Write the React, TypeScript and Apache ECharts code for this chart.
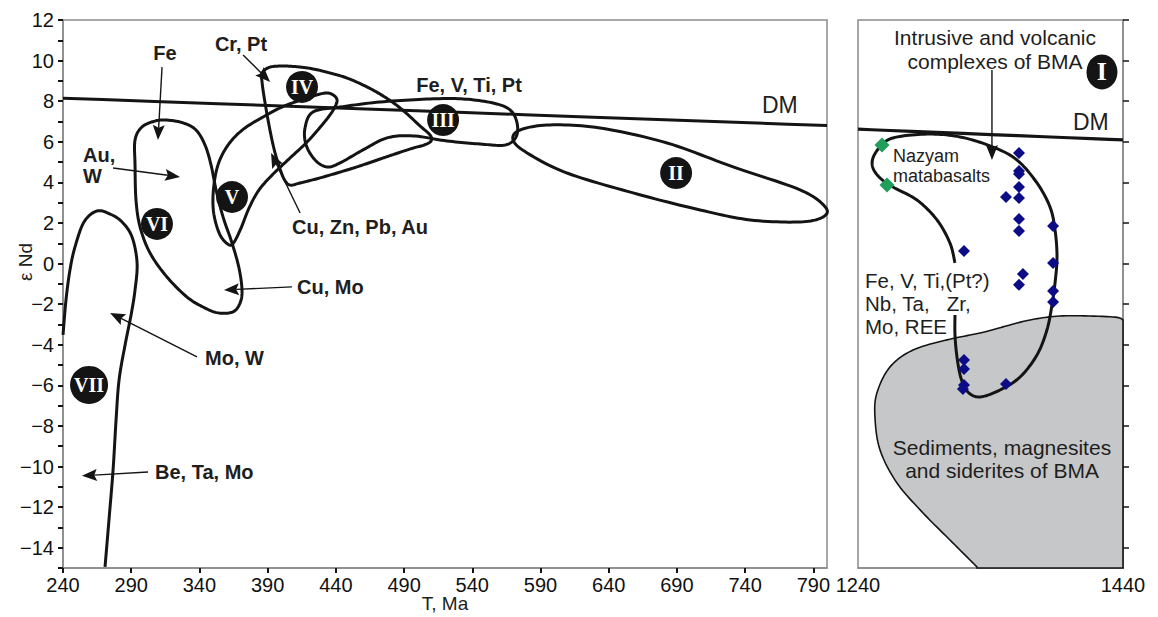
import React, { useEffect, useRef } from 'react';
import * as echarts from 'echarts';

// ---------- data ----------
const xTicksLeft = [240, 290, 340, 390, 440, 490, 540, 590, 640, 690, 740, 790];
const xTicksRight = [1240, 1440];
const yTicksRight = [12, 10, 8, 6, 4, 2, 0, -2, -4, -6, -8, -10, -12, -14];

const dmLeft = [[240, 8.15], [800, 6.8]];
const dmRight = [[1240, 6.62], [1440, 6.09]];

const fieldII = [[569.9, 6.09], [575.0, 6.58], [597.0, 6.83], [633.7, 6.68], [682.8, 5.94], [731.2, 4.76], [780.3, 3.63], [798.7, 2.79], [797.2, 2.30], [780.3, 2.05], [743.7, 2.15], [707.0, 2.64], [657.9, 3.48], [609.5, 4.46], [580.2, 5.45]];
const fieldIII = [[423.3, 7.47], [443.1, 7.71], [472.4, 7.96], [509.1, 8.11], [533.3, 8.11], [555.2, 7.91], [567.7, 7.57], [572.8, 6.93], [572.1, 6.24], [564.0, 5.84], [545.7, 5.89], [521.5, 6.04], [496.6, 6.29], [477.5, 6.19], [459.9, 5.60], [443.1, 4.96], [433.5, 4.76], [424.8, 5.10], [418.2, 5.84], [417.4, 6.68]];
const fieldIV = [[385.9, 9.39], [391.8, 9.68], [402.8, 9.73], [413.8, 9.68], [423.3, 9.59], [435.7, 9.39], [448.2, 9.14], [461.4, 8.75], [472.4, 8.35], [483.4, 7.86], [492.2, 7.37], [501.7, 6.78], [509.1, 6.33], [509.8, 6.04], [504.7, 5.84], [496.6, 5.69], [483.4, 5.40], [472.4, 5.15], [459.9, 4.86], [448.2, 4.61], [428.4, 4.22], [413.8, 3.97], [406.4, 3.87], [402.0, 4.17], [397.6, 4.96], [394.0, 5.84], [390.3, 7.07], [387.4, 8.21], [385.9, 8.95]];
const fieldV = [[361.7, 0.92], [355.1, 1.41], [350.7, 2.39], [350.0, 3.38], [352.2, 4.51], [356.6, 5.35], [363.9, 6.09], [373.4, 6.68], [386.6, 7.22], [399.1, 7.67], [410.1, 7.96], [421.1, 8.21], [432.1, 8.40], [438.0, 8.31], [440.9, 8.01], [437.2, 7.47], [429.9, 6.83], [418.9, 5.99], [406.4, 5.20], [394.0, 4.41], [383.7, 3.63], [376.4, 2.74], [370.5, 1.75], [365.4, 1.06]];
const fieldVI = [[316.2, 7.07], [328.0, 6.93], [337.5, 6.58], [344.1, 5.84], [348.5, 4.86], [352.2, 3.63], [357.3, 2.30], [363.9, 1.01], [369.0, -0.22], [371.2, -1.30], [369.8, -1.94], [364.6, -2.38], [353.6, -2.43], [342.6, -2.14], [330.9, -1.65], [316.2, -0.66], [303.8, 0.52], [296.5, 1.80], [293.5, 3.13], [292.8, 4.86], [292.8, 6.09], [297.9, 6.73], [307.4, 7.02]];
const curveVII = [[240.0, -3.52], [242.2, -1.79], [245.1, -0.32], [248.8, 0.82], [255.4, 2.05], [264.9, 2.59], [274.5, 2.44], [283.3, 2.05], [290.6, 1.31], [294.3, 0.03], [292.8, -1.30], [289.9, -2.53], [285.5, -4.01], [281.1, -5.73], [278.9, -7.70], [276.7, -10.17], [273.7, -12.63], [270.8, -14.95]];

const curveI = [[1313.2, 0.03], [1309.4, 1.01], [1299.6, 2.15], [1284.5, 3.13], [1266.4, 3.77], [1256.6, 4.22], [1251.3, 4.71], [1251.3, 5.20], [1256.6, 5.74], [1266.4, 6.19], [1292.1, 6.38], [1317.0, 6.24], [1341.9, 5.74], [1360.0, 5.10], [1375.1, 3.97], [1384.9, 2.79], [1388.7, 1.66], [1390.2, 0.33], [1388.7, -0.96], [1386.4, -2.04], [1382.6, -3.27], [1375.1, -4.50], [1362.3, -5.59], [1347.2, -6.23], [1332.1, -6.57], [1323.0, -6.33], [1317.7, -5.64], [1314.7, -4.60], [1313.2, -3.52], [1313.2, -2.53]];
const sedimentTop = [[1440.0, -2.78], [1432.4, -2.63], [1394.7, -2.58], [1369.8, -2.78], [1349.4, -3.12], [1332.1, -3.42], [1307.2, -3.76], [1281.5, -4.26], [1264.2, -5.09], [1254.3, -6.37], [1252.8, -7.56], [1256.6, -9.18], [1269.4, -10.81], [1289.1, -12.29], [1309.4, -13.62], [1329.8, -14.95]];

const bmaSamples = [[1361.5, 5.45], [1361.5, 4.56], [1361.5, 4.41], [1361.5, 3.77], [1351.7, 3.28], [1361.5, 3.23], [1361.5, 2.20], [1361.5, 1.61], [1387.2, 1.85], [1320.0, 0.62], [1387.2, 0.03], [1364.5, -0.51], [1361.5, -1.05], [1387.2, -1.35], [1387.2, -1.89], [1320.0, -4.75], [1320.0, -5.19], [1320.0, -5.98], [1319.2, -6.18], [1351.7, -5.93]];
const nazyamSamples = [[1258.1, 5.84], [1261.9, 3.87]];

const numeralNames = ['II', 'III', 'IV', 'V', 'VI', 'VII'];
const numeralPos = [[689.4, 4.46], [518.6, 7.07], [415.2, 8.70], [363.9, 3.28], [308.9, 1.95], [259.1, -5.98]];
const numeralI = [1424.1, 9.44];

// arrows: [x0, y0, x1(tip), y1(tip)]
const arrowsLeft = [[312.6, 9.68, 309.6, 6.09], [276.7, 4.71, 325.8, 4.27], [372.0, 10.28, 391.8, 8.95], [413.8, 2.49, 392.5, 5.45], [407.9, -1.15, 358.0, -1.30], [338.2, -4.60, 274.5, -2.43], [302.3, -10.27, 253.9, -10.46]];
const arrowsRight = [[1341.1, 9.54, 1341.1, 5.10]];

// ---------- helpers ----------
function catmull(pts: number[][], closed: boolean, seg = 12): number[][] {
  const n = pts.length;
  const out: number[][] = [];
  const get = (i: number) => (closed ? pts[(i + n) % n] : pts[Math.max(0, Math.min(n - 1, i))]);
  const last = closed ? n : n - 1;
  for (let i = 0; i < last; i++) {
    const p0 = get(i - 1), p1 = get(i), p2 = get(i + 1), p3 = get(i + 2);
    for (let s = 0; s < seg; s++) {
      const t = s / seg, t2 = t * t, t3 = t2 * t;
      const f = (k: number) => 0.5 * (2 * p1[k] + (-p0[k] + p2[k]) * t + (2 * p0[k] - 5 * p1[k] + 4 * p2[k] - p3[k]) * t2 + (-p0[k] + 3 * p1[k] - 3 * p2[k] + p3[k]) * t3);
      out.push([f(0), f(1)]);
    }
  }
  if (!closed) out.push(pts[n - 1]);
  return out;
}

const INK = '#141414';

function curveSeries(points: number[][], closed: boolean, grid: number, z = 3, lw = 3) {
  return {
    type: 'custom',
    coordinateSystem: 'cartesian2d',
    xAxisIndex: grid,
    yAxisIndex: grid,
    data: points,
    silent: true,
    z,
    renderItem: (params: any, api: any) => {
      if (params.dataIndex !== 0) return null;
      const px = points.map((p) => api.coord(p));
      const sm = catmull(px, closed, 12);
      return {
        type: closed ? 'polygon' : 'polyline',
        shape: { points: sm },
        style: { fill: 'none', stroke: INK, lineWidth: lw, lineJoin: 'round' },
      };
    },
  };
}

function arrowSeries(arrows: number[][], grid: number) {
  return {
    type: 'custom',
    coordinateSystem: 'cartesian2d',
    xAxisIndex: grid,
    yAxisIndex: grid,
    data: arrows,
    silent: true,
    z: 4,
    renderItem: (params: any, api: any) => {
      const a = api.coord([api.value(0), api.value(1)]);
      const b = api.coord([api.value(2), api.value(3)]);
      const dx = b[0] - a[0], dy = b[1] - a[1];
      const L = Math.hypot(dx, dy) || 1;
      const ux = dx / L, uy = dy / L;
      const hl = 15, hw = 6;
      const base = [b[0] - ux * hl, b[1] - uy * hl];
      const notch = [b[0] - ux * hl * 0.82, b[1] - uy * hl * 0.82];
      return {
        type: 'group',
        children: [
          { type: 'line', shape: { x1: a[0], y1: a[1], x2: notch[0], y2: notch[1] }, style: { stroke: INK, lineWidth: 1.4 } },
          {
            type: 'polygon',
            shape: { points: [b, [base[0] - uy * hw, base[1] + ux * hw], notch, [base[0] + uy * hw, base[1] - ux * hw]] },
            style: { fill: INK },
          },
        ],
      };
    },
  };
}

const SANS = '"Liberation Sans", Arial, Helvetica, sans-serif';
const SERIF = '"Liberation Serif", "Times New Roman", serif';

function txt(text: string, x: number, y: number, opts: any = {}) {
  return {
    type: 'text',
    x,
    y,
    z: 100,
    rotation: opts.rotation || 0,
    silent: true,
    style: {
      text,
      fill: opts.color || '#1e1e1e',
      fontSize: opts.size || 20,
      fontWeight: opts.bold ? 'bold' : 'normal',
      fontFamily: SANS,
      align: opts.align || 'center',
      verticalAlign: 'middle',
      lineHeight: opts.lh || undefined,
    },
  };
}

export default function App() {
  const ref = useRef<HTMLDivElement>(null);
  useEffect(() => {
    document.body.style.margin = '0';
    if (!ref.current) return;
    const chart = echarts.init(ref.current, undefined, { renderer: 'svg' });

    const axisLineStyle = { color: '#8a8a8a', width: 1.5 };
    const plain = (v: number) => String(v);
    const option: any = {
      animation: false,
      backgroundColor: '#fff',
      grid: [
        { left: 63, top: 20, width: 764, height: 548, show: true, borderColor: '#8a8a8a', borderWidth: 1.5, outerBoundsMode: 'none', containLabel: false },
        { left: 858, top: 20, width: 265, height: 548, show: true, borderColor: '#8a8a8a', borderWidth: 1.5, outerBoundsMode: 'none', containLabel: false },
      ],
      xAxis: [
        {
          type: 'value', gridIndex: 0, min: 240, max: 800,
          axisLine: { show: true, onZero: false, lineStyle: axisLineStyle },
          axisTick: { show: true, customValues: xTicksLeft, length: 5, lineStyle: { color: INK, width: 2 } },
          axisLabel: { customValues: xTicksLeft, fontSize: 20, color: '#111', fontFamily: SANS, margin: 7, formatter: plain },
          splitLine: { show: false },
        },
        {
          type: 'value', gridIndex: 1, min: 1240, max: 1440,
          axisLine: { show: true, onZero: false, lineStyle: axisLineStyle },
          axisTick: { show: false },
          axisLabel: { customValues: xTicksRight, fontSize: 20, color: '#111', fontFamily: SANS, margin: 7, formatter: plain },
          splitLine: { show: false },
        },
      ],
      yAxis: [
        {
          type: 'value', gridIndex: 0, min: -15, max: 12, interval: 1,
          axisLine: { show: true, onZero: false, lineStyle: axisLineStyle },
          axisTick: { show: true, length: 5, lineStyle: { color: INK, width: 2 } },
          axisLabel: {
            fontSize: 20, color: '#111', fontFamily: SANS, margin: 9,
            formatter: (v: number) => (Math.abs(v % 2) === 0 ? String(v).replace('-', '\u2212') : ''),
          },
          splitLine: { show: false },
        },
        {
          type: 'value', gridIndex: 1, min: -15, max: 12, position: 'right',
          axisLine: { show: true, onZero: false, lineStyle: axisLineStyle },
          axisTick: { show: true, customValues: yTicksRight, length: 6, lineStyle: { color: INK, width: 1.5 } },
          axisLabel: { show: false },
          splitLine: { show: false },
        },
      ],
      series: [
        // sediments (grey field)
        {
          type: 'custom', coordinateSystem: 'cartesian2d', xAxisIndex: 1, yAxisIndex: 1,
          data: sedimentTop, silent: true, z: 1,
          renderItem: (params: any, api: any) => {
            if (params.dataIndex !== 0) return null;
            const top = catmull(sedimentTop.map((p) => api.coord(p)), false, 12);
            const lastX = sedimentTop[sedimentTop.length - 1][0];
            const firstY = sedimentTop[0][1];
            const pts = top.concat([api.coord([lastX, -15]), api.coord([1440, -15]), api.coord([1440, firstY])]);
            return { type: 'polygon', shape: { points: pts }, style: { fill: '#c6c7c8', stroke: INK, lineWidth: 1.6 } };
          },
        },
        curveSeries(dmLeft, false, 0, 3, 3),
        curveSeries(dmRight, false, 1, 3, 3.2),
        curveSeries(fieldII, true, 0),
        curveSeries(fieldIII, true, 0),
        curveSeries(fieldIV, true, 0),
        curveSeries(fieldV, true, 0),
        curveSeries(fieldVI, true, 0),
        curveSeries(curveVII, false, 0),
        curveSeries(curveI, false, 1),
        arrowSeries(arrowsLeft, 0),
        arrowSeries(arrowsRight, 1),
        {
          type: 'scatter', xAxisIndex: 1, yAxisIndex: 1, data: bmaSamples, symbol: 'diamond', symbolSize: 12,
          itemStyle: { color: '#0c0c86', opacity: 1 }, z: 5, silent: true,
        },
        {
          type: 'scatter', xAxisIndex: 1, yAxisIndex: 1, data: nazyamSamples, symbol: 'diamond', symbolSize: 15,
          itemStyle: { color: '#1f9e5c', opacity: 1 }, z: 5, silent: true,
        },
        {
          type: 'scatter', xAxisIndex: 0, yAxisIndex: 0, z: 6, silent: true,
          data: numeralNames.map((n, i) => ({ name: n, value: numeralPos[i], symbolSize: n === 'VII' ? 38 : 32 })),
          symbol: 'circle',
          itemStyle: { color: INK, opacity: 1 },
          label: { show: true, position: 'inside', formatter: '{b}', color: '#fff', fontFamily: SERIF, fontWeight: 'bold', fontSize: 20, textBorderWidth: 0 },
        },
        {
          type: 'scatter', xAxisIndex: 1, yAxisIndex: 1, z: 6, silent: true,
          data: [{ name: 'I', value: numeralI }],
          symbol: 'circle', symbolSize: [31, 35],
          itemStyle: { color: INK, opacity: 1 },
          label: { show: true, position: 'inside', formatter: '{b}', color: '#fff', fontFamily: SERIF, fontWeight: 'bold', fontSize: 26, textBorderWidth: 0 },
        },
      ],
      graphic: [
        txt('\u03b5 Nd', 25, 262, { size: 19, rotation: Math.PI / 2 }),
        txt('T, Ma', 445, 603, { size: 19 }),
        txt('Fe', 165, 53, { bold: true }),
        txt('Cr, Pt', 241, 44, { bold: true }),
        txt('Fe, V, Ti, Pt', 469, 85, { bold: true }),
        txt('Au,\nW', 83, 165, { bold: true, align: 'left', lh: 21 }),
        txt('Cu, Zn, Pb, Au', 360, 227, { bold: true }),
        txt('Cu, Mo', 297, 287, { bold: true, align: 'left' }),
        txt('Mo, W', 205, 358, { bold: true, align: 'left' }),
        txt('Be, Ta, Mo', 155, 472, { bold: true, align: 'left' }),
        txt('DM', 762, 105, { size: 23, align: 'left' }),
        txt('DM', 1073, 122, { size: 23, align: 'left' }),
        txt('Intrusive and volcanic\ncomplexes of BMA', 995, 49, { size: 21, lh: 24 }),
        txt('Nazyam\nmatabasalts', 893, 166, { size: 18, align: 'left', lh: 20 }),
        txt('Fe, V, Ti,(Pt?)\nNb, Ta,   Zr,\nMo, REE', 865, 303, { size: 20.5, align: 'left', lh: 23 }),
        txt('Sediments, magnesites\nand siderites of BMA', 1002, 459, { size: 21, lh: 23 }),
      ],
    };
    chart.setOption(option);
    return () => chart.dispose();
  }, []);
  return <div ref={ref} style={{ width: 1158, height: 617 }} />;
}
